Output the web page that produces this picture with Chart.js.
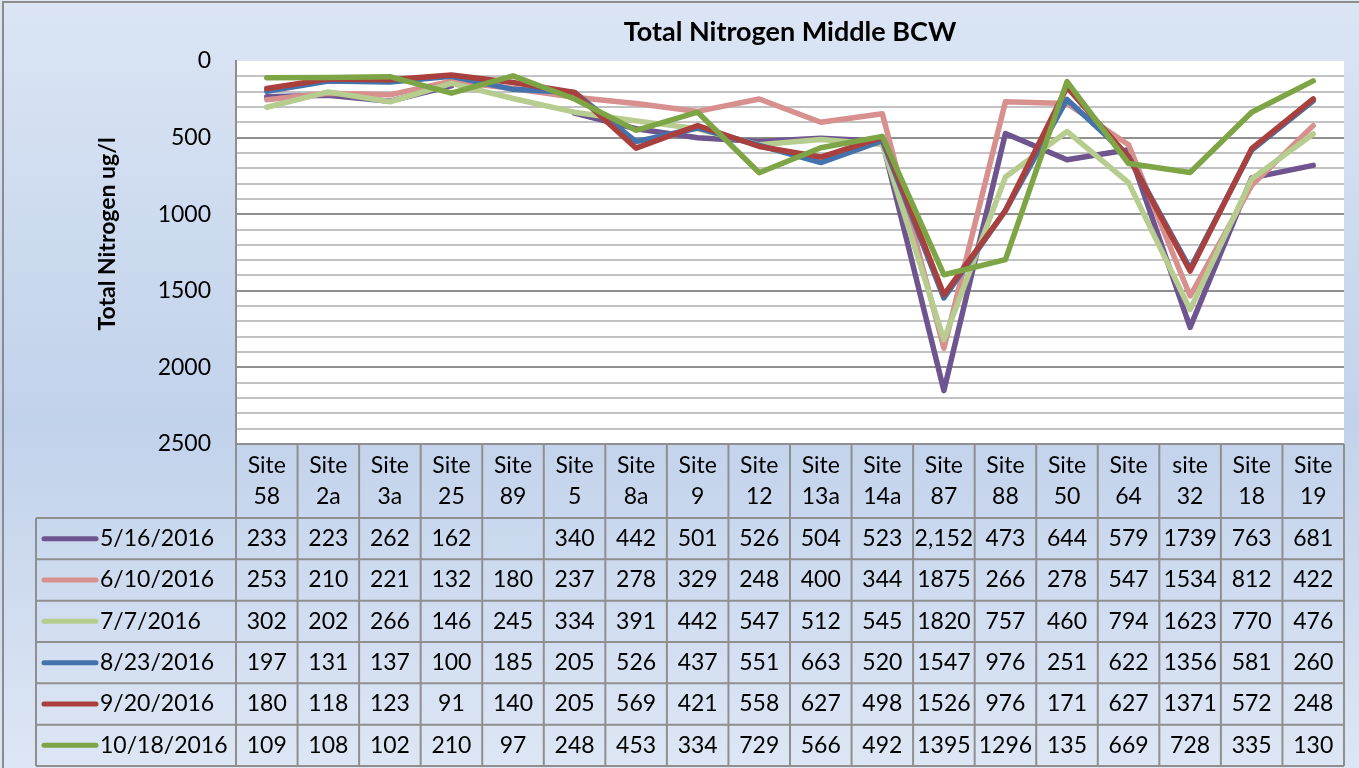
<!DOCTYPE html>
<html>
<head>
<meta charset="utf-8">
<title>Total Nitrogen Middle BCW</title>
<script src="https://cdn.jsdelivr.net/npm/chart.js@4/dist/chart.umd.min.js"></script>
<style>
    html, body { margin: 0; padding: 0; background: #ffffff; }
    #wrap { width: 1359px; height: 768px; }
</style>
</head>
<body>
<div id="wrap"><canvas id="nitrogen-chart" width="1359" height="768"></canvas></div>
<script>
    "use strict";

    // Data
    var sites = ["Site 58", "Site 2a", "Site 3a", "Site 25", "Site 89", "Site 5", "Site 8a", "Site 9", "Site 12",
        "Site 13a", "Site 14a", "Site 87", "Site 88", "Site 50", "Site 64", "site 32", "Site 18", "Site 19"];
    var dates = ["5/16/2016", "6/10/2016", "7/7/2016", "8/23/2016", "9/20/2016", "10/18/2016"];

    var n0516 = [233, 223, 262, 162, null, 340, 442, 501, 526, 504, 523, 2152, 473, 644, 579, 1739, 763, 681];
    var n0610 = [253, 210, 221, 132, 180, 237, 278, 329, 248, 400, 344, 1875, 266, 278, 547, 1534, 812, 422];
    var n0707 = [302, 202, 266, 146, 245, 334, 391, 442, 547, 512, 545, 1820, 757, 460, 794, 1623, 770, 476];
    var n0823 = [197, 131, 137, 100, 185, 205, 526, 437, 551, 663, 520, 1547, 976, 251, 622, 1356, 581, 260];
    var n0920 = [180, 118, 123, 91, 140, 205, 569, 421, 558, 627, 498, 1526, 976, 171, 627, 1371, 572, 248];
    var n1018 = [109, 108, 102, 210, 97, 248, 453, 334, 729, 566, 492, 1395, 1296, 135, 669, 728, 335, 130];

    var series = [n0516, n0610, n0707, n0823, n0920, n1018];
    var colors = ["#6f558f", "#d7908d", "#b6cd8f", "#4472ad", "#a9403e", "#7ea545"];

    var FONT = "Lato, 'Open Sans', sans-serif";
    var gridColor = "#8f8f8f";

    function cellText(v) {
        if (v === null || v === undefined) return "";
        return v >= 2000 ? v.toLocaleString("en-US") : String(v);
    }

    // Background, plot area fill
    var backdrop = {
        id: "backdrop",
        beforeDraw: function (chart) {
            var ctx = chart.ctx, a = chart.chartArea;
            ctx.save();
            var g = ctx.createLinearGradient(0, 0, 0, chart.height);
            g.addColorStop(0, "#dbe5f4");
            g.addColorStop(0.55, "#c1d2eb");
            g.addColorStop(1, "#dde6f4");
            ctx.fillStyle = g;
            ctx.fillRect(0, 0, chart.width, chart.height);
            ctx.fillStyle = "#ffffff";
            ctx.fillRect(a.left, a.top, a.right - a.left, a.bottom - a.top);
            // outer frame
            ctx.strokeStyle = "#8c8c8c";
            ctx.lineWidth = 2;
            ctx.beginPath();
            ctx.moveTo(3, chart.height);
            ctx.lineTo(3, 2);
            ctx.lineTo(chart.width, 2);
            ctx.stroke();
            ctx.restore();
        }
    };

    // Titles and the data table under the plot
    var dataTable = {
        id: "dataTable",
        afterDraw: function (chart) {
            var ctx = chart.ctx, a = chart.chartArea;
            var n = sites.length;
            var colW = (a.right - a.left) / n;
            var headTop = a.bottom, headBottom = 518;
            var rowH = (766 - headBottom) / series.length;
            var legLeft = 36;

            ctx.save();

            // chart title
            ctx.fillStyle = "#000000";
            ctx.font = "bold 27px " + FONT;
            ctx.textAlign = "center";
            ctx.textBaseline = "middle";
            ctx.fillText("Total Nitrogen Middle BCW", (a.left + a.right) / 2, 32);

            // y axis title
            ctx.save();
            ctx.translate(108, 234);
            ctx.rotate(-Math.PI / 2);
            ctx.font = "bold 23px " + FONT;
            ctx.fillText("Total Nitrogen ug/l", 0, 0);
            ctx.restore();

            // grid lines of the table
            ctx.strokeStyle = gridColor;
            ctx.lineWidth = 2;
            ctx.beginPath();
            ctx.moveTo(a.left, headTop);
            ctx.lineTo(a.right, headTop);
            for (var r = 0; r <= series.length; r++) {
                var y = headBottom + r * rowH;
                ctx.moveTo(legLeft, y);
                ctx.lineTo(a.right, y);
            }
            for (var c = 0; c <= n; c++) {
                var x = a.left + c * colW;
                ctx.moveTo(x, headTop);
                ctx.lineTo(x, 766);
            }
            ctx.moveTo(legLeft, headBottom);
            ctx.lineTo(legLeft, 766);
            ctx.stroke();

            // category labels
            ctx.font = "23px " + FONT;
            ctx.fillStyle = "#000000";
            ctx.textAlign = "center";
            ctx.textBaseline = "middle";
            for (var i = 0; i < n; i++) {
                var cx = chart.scales.x.getPixelForValue(i);
                var parts = sites[i].split(" ");
                ctx.fillText(parts[0], cx, 466);
                ctx.fillText(parts[1], cx, 497);
            }

            // rows
            for (var s = 0; s < series.length; s++) {
                var cy = headBottom + s * rowH + rowH / 2;
                ctx.strokeStyle = colors[s];
                ctx.lineWidth = 5;
                ctx.lineCap = "round";
                ctx.beginPath();
                ctx.moveTo(44, cy);
                ctx.lineTo(96, cy);
                ctx.stroke();
                ctx.textAlign = "left";
                ctx.fillText(dates[s], 100, cy);
                ctx.textAlign = "center";
                for (var j = 0; j < n; j++) {
                    ctx.fillText(cellText(series[s][j]), chart.scales.x.getPixelForValue(j), cy);
                }
            }
            ctx.restore();
        }
    };

    var ctx1 = document.getElementById("nitrogen-chart").getContext("2d");
    var myChart = new Chart(ctx1, {
        type: "line",
        data: {
            labels: sites,
            datasets: series.map(function (vals, k) {
                return {
                    label: dates[k],
                    data: vals,
                    borderColor: colors[k],
                    backgroundColor: colors[k],
                    borderWidth: 5.5,
                    pointRadius: 0,
                    tension: 0,
                    fill: false,
                    spanGaps: false,
                    borderJoinStyle: "round",
                    borderCapStyle: "round",
                    order: series.length - k
                };
            })
        },
        options: {
            responsive: false,
            animation: false,
            layout: {
                padding: { top: 61, right: 15, bottom: 324, left: 0 }
            },
            plugins: {
                legend: { display: false },
                tooltip: { enabled: false },
                title: { display: false }
            },
            scales: {
                x: {
                    type: "category",
                    offset: true,
                    display: false
                },
                y: {
                    reverse: true,
                    min: 0,
                    max: 2500,
                    afterFit: function (scale) { scale.width = 236; },
                    border: { display: true, color: gridColor, width: 2 },
                    grid: {
                        drawTicks: false,
                        lineWidth: 2,
                        color: function (c) {
                            if (!c.tick || c.tick.value === 0) return "rgba(0,0,0,0)";
                            return c.tick.value % 500 === 0 ? "#8f8f8f" : "#c2c2c2";
                        }
                    },
                    ticks: {
                        stepSize: 100,
                        autoSkip: false,
                        padding: 25,
                        color: "#000000",
                        font: { family: FONT, size: 23 },
                        callback: function (v) { return v % 500 === 0 ? v : ""; }
                    }
                }
            }
        },
        plugins: [backdrop, dataTable]
    });
</script>
</body>
</html>
